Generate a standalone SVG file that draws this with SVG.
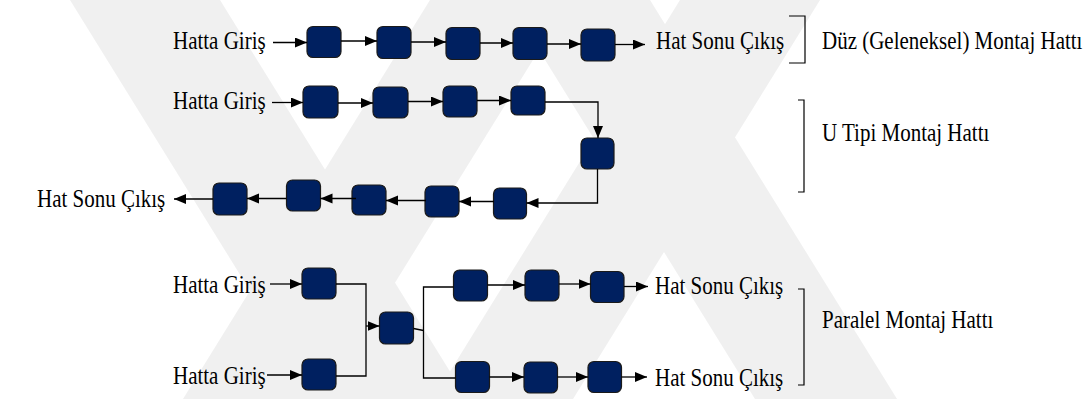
<svg xmlns="http://www.w3.org/2000/svg" width="1089" height="399" viewBox="0 0 1089 399">
  <style>
    .lbl { font-family: "Liberation Serif", "Times New Roman", serif; font-size: 21px; fill: #000; }
    .st { fill: #002060; stroke: #1a1a1a; stroke-width: 1.2; }
    .cn { fill: none; stroke: #000; stroke-width: 1.3; }
    .br { fill: none; stroke: #000; stroke-width: 1.2; }
    .wm { fill: #f0f0f0; }
  </style>
  <defs>
    <marker id="ah" markerUnits="userSpaceOnUse" markerWidth="13" markerHeight="11" refX="12" refY="5" orient="auto">
      <path d="M0,0 L12,5 L0,10 z" fill="#000"/>
    </marker>
  </defs>

  <rect width="1089" height="399" fill="#fff"/>

  <!-- faint striped emblem in the background -->
  <g id="emblem">
    <polygon class="wm" points="70,0 220,0 467,399 317,399"/>
    <polygon class="wm" points="430,0 570,0 323,399 183,399"/>
    <polygon class="wm" points="680,0 820,0 573,399 433,399"/>
    <polygon class="wm" points="508,0 650,0 897,399 755,399"/>
  </g>

  <!-- straight (traditional) line -->
  <g id="duz-giris"><text class="lbl" transform="translate(173,49) scale(1,1.15)">Hatta Giriş</text></g>
  <g id="duz-s1"><rect class="st" x="307" y="26.5" width="34" height="31" rx="6"/></g>
  <g id="duz-s2"><rect class="st" x="377" y="26.5" width="34" height="32" rx="6"/></g>
  <g id="duz-s3"><rect class="st" x="446" y="27.5" width="34" height="32" rx="6"/></g>
  <g id="duz-s4"><rect class="st" x="513" y="27.5" width="34" height="32" rx="6"/></g>
  <g id="duz-s5"><rect class="st" x="581" y="29" width="34" height="32" rx="6"/></g>
  <g id="duz-cikis"><text class="lbl" transform="translate(656,49) scale(1,1.15)">Hat Sonu Çıkış</text></g>
  <g id="duz-etiket">
    <path class="br" d="M789,16 H805 V63 H789"/>
    <text class="lbl" transform="translate(822,49) scale(1,1.15)">Düz (Geleneksel) Montaj Hattı</text>
  </g>

  <!-- U-shaped line -->
  <g id="u-giris"><text class="lbl" transform="translate(173,109) scale(1,1.15)">Hatta Giriş</text></g>
  <g id="u-s1"><rect class="st" x="303" y="86" width="35" height="32" rx="6"/></g>
  <g id="u-s2"><rect class="st" x="373" y="87" width="35" height="31" rx="6"/></g>
  <g id="u-s3"><rect class="st" x="443" y="86" width="34" height="31" rx="6"/></g>
  <g id="u-s4"><rect class="st" x="511" y="86" width="34" height="29" rx="6"/></g>
  <g id="u-s5"><rect class="st" x="581" y="138" width="33" height="31" rx="6"/></g>
  <g id="u-s6"><rect class="st" x="493.5" y="188" width="33" height="31" rx="6"/></g>
  <g id="u-s7"><rect class="st" x="425" y="186" width="34" height="31" rx="6"/></g>
  <g id="u-s8"><rect class="st" x="352" y="185" width="34" height="30" rx="6"/></g>
  <g id="u-s9"><rect class="st" x="286.5" y="180" width="34" height="31" rx="6"/></g>
  <g id="u-s10"><rect class="st" x="213" y="183" width="34" height="32" rx="6"/></g>
  <g id="u-cikis"><text class="lbl" transform="translate(37,207) scale(1,1.15)">Hat Sonu Çıkış</text></g>
  <g id="u-etiket">
    <path class="br" d="M798,100 H804 V192 H798"/>
    <text class="lbl" transform="translate(822,141) scale(1,1.15)">U Tipi Montaj Hattı</text>
  </g>

  <!-- parallel line -->
  <g id="p-giris1"><text class="lbl" transform="translate(173,293) scale(1,1.15)">Hatta Giriş</text></g>
  <g id="p-giris2"><text class="lbl" transform="translate(173,384) scale(1,1.15)">Hatta Giriş</text></g>
  <g id="p-a1"><rect class="st" x="302" y="268" width="34" height="31" rx="6"/></g>
  <g id="p-a2"><rect class="st" x="302" y="359" width="34" height="31" rx="6"/></g>
  <g id="p-m"><rect class="st" x="379.5" y="312" width="34" height="32" rx="6"/></g>
  <g id="p-u1"><rect class="st" x="453.5" y="270" width="34" height="31" rx="6"/></g>
  <g id="p-u2"><rect class="st" x="525" y="270" width="34" height="31" rx="6"/></g>
  <g id="p-u3"><rect class="st" x="590.5" y="271.5" width="33.5" height="31" rx="6"/></g>
  <g id="p-l1"><rect class="st" x="455.5" y="361.5" width="34" height="31" rx="6"/></g>
  <g id="p-l2"><rect class="st" x="524" y="362" width="33.5" height="31" rx="6"/></g>
  <g id="p-l3"><rect class="st" x="588" y="361.5" width="33.5" height="31" rx="6"/></g>
  <g id="p-cikis1"><text class="lbl" transform="translate(655,294) scale(1,1.15)">Hat Sonu Çıkış</text></g>
  <g id="p-cikis2"><text class="lbl" transform="translate(655,386) scale(1,1.15)">Hat Sonu Çıkış</text></g>
  <g id="p-etiket">
    <path class="br" d="M798,289 H804 V385 H798"/>
    <text class="lbl" transform="translate(822,328) scale(1,1.15)">Paralel Montaj Hattı</text>
  </g>

  <g id="connectors">
    <!-- straight line -->
    <line class="cn" x1="273" y1="42.5" x2="307" y2="42.5" marker-end="url(#ah)"/>
    <line class="cn" x1="341" y1="41" x2="377" y2="41" marker-end="url(#ah)"/>
    <line class="cn" x1="411" y1="42" x2="446" y2="42" marker-end="url(#ah)"/>
    <line class="cn" x1="480" y1="43" x2="513" y2="43" marker-end="url(#ah)"/>
    <line class="cn" x1="547" y1="44" x2="581" y2="44" marker-end="url(#ah)"/>
    <line class="cn" x1="615" y1="44.5" x2="645" y2="44.5" marker-end="url(#ah)"/>
    <!-- U line, upper leg -->
    <line class="cn" x1="272" y1="102.5" x2="303" y2="102.5" marker-end="url(#ah)"/>
    <line class="cn" x1="338" y1="103" x2="373" y2="103" marker-end="url(#ah)"/>
    <line class="cn" x1="408" y1="101.5" x2="443" y2="101.5" marker-end="url(#ah)"/>
    <line class="cn" x1="477" y1="100.5" x2="511" y2="100.5" marker-end="url(#ah)"/>
    <polyline class="cn" points="545,102 598,102 598,138" marker-end="url(#ah)"/>
    <!-- U line, lower leg -->
    <polyline class="cn" points="597.5,169 597.5,203 526.5,203" marker-end="url(#ah)"/>
    <line class="cn" x1="494" y1="201.5" x2="459" y2="201.5" marker-end="url(#ah)"/>
    <line class="cn" x1="426" y1="200.5" x2="386" y2="200.5" marker-end="url(#ah)"/>
    <line class="cn" x1="356" y1="198.5" x2="320.5" y2="198.5" marker-end="url(#ah)"/>
    <line class="cn" x1="286.5" y1="198.5" x2="247" y2="198.5" marker-end="url(#ah)"/>
    <line class="cn" x1="213" y1="199" x2="174" y2="199" marker-end="url(#ah)"/>
    <!-- parallel line -->
    <line class="cn" x1="270" y1="284" x2="302" y2="284" marker-end="url(#ah)"/>
    <line class="cn" x1="267" y1="375" x2="302" y2="375" marker-end="url(#ah)"/>
    <polyline class="cn" points="336,284 366,284 366,376 336,376"/>
    <line class="cn" x1="366" y1="326" x2="379.5" y2="326" marker-end="url(#ah)"/>
    <polyline class="cn" points="413.5,328.5 423.5,330.5"/>
    <polyline class="cn" points="453.5,287 423.5,287 423.5,378 455.5,378"/>
    <line class="cn" x1="487.5" y1="285" x2="525" y2="285" marker-end="url(#ah)"/>
    <line class="cn" x1="559" y1="284" x2="590.5" y2="284" marker-end="url(#ah)"/>
    <line class="cn" x1="624" y1="286.5" x2="648" y2="286.5" marker-end="url(#ah)"/>
    <line class="cn" x1="489.5" y1="377" x2="524" y2="377" marker-end="url(#ah)"/>
    <line class="cn" x1="557.5" y1="377" x2="588" y2="377" marker-end="url(#ah)"/>
    <line class="cn" x1="621.5" y1="377" x2="647" y2="377" marker-end="url(#ah)"/>
  </g>
</svg>
